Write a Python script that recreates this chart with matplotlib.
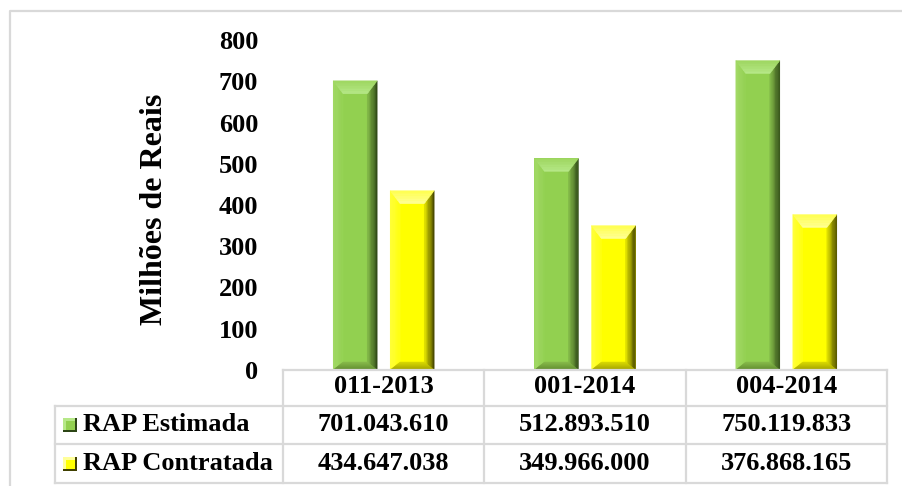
import matplotlib
matplotlib.use('Agg')
import matplotlib.pyplot as plt
from matplotlib.patches import Polygon, Rectangle
from matplotlib.lines import Line2D
from matplotlib.colors import to_rgb
import numpy as np

plt.rcParams['font.family'] = ['Liberation Serif', 'DejaVu Serif']
plt.rcParams['font.weight'] = 'bold'

leiloes = ['011-2013', '001-2014', '004-2014']
series = ['RAP Estimada', 'RAP Contratada']
rap_estimada = [701043610, 512893510, 750119833]
rap_contratada = [434647038, 349966000, 376868165]
y_ticks = [0, 100, 200, 300, 400, 500, 600, 700, 800]

# face, then (outer, inner) colours of each bevel side: top, left, right, bottom
GREEN = dict(face='#92D050', top=('#9ED760', '#B6E888'), left=('#A4DA68', '#94D253'),
             right=('#2C4515', '#86BC4A'), bottom=('#5F8A2E', '#86BA4A'))
YELLOW = dict(face='#FFFF00', top=('#FFFF50', '#FFFF9A'), left=('#FFFF40', '#FFFF10'),
              right=('#404000', '#E6E600'), bottom=('#A0A000', '#DADA00'))
GRID = '#D9D9D9'
FS = 19

W, H = 902, 486
fig = plt.figure(figsize=(W / 100, H / 100), dpi=100)

ax = fig.add_axes([283 / W, 116 / H, 604 / W, 330 / H])
ax.set_xlim(-0.5, 2.5)
ax.set_ylim(0, 800)
for s in ax.spines.values():
    s.set_visible(False)
ax.set_xticks([])
ax.set_yticks(y_ticks)
ax.set_yticklabels([str(t) for t in y_ticks], fontsize=FS, fontweight='bold')
ax.tick_params(axis='y', length=0, pad=18)

# data units per pixel, used for the bevel size
px_x = 3.0 / 604
px_y = 800.0 / 330


def shade(ax, p0, p1, q0, q1, c_out, c_in, n=8):
    # fill the band between outer edge p0-p1 and inner edge q0-q1 with a gradient
    p0, p1, q0, q1 = map(np.array, (p0, p1, q0, q1))
    a, b = np.array(to_rgb(c_out)), np.array(to_rgb(c_in))
    for i in range(n):
        t0, t1 = i / n, (i + 1) / n
        pts = [p0 + (q0 - p0) * t0, p1 + (q1 - p1) * t0,
               p1 + (q1 - p1) * t1, p0 + (q0 - p0) * t1]
        c = a + (b - a) * (i + 0.5) / n
        ax.add_patch(Polygon(pts, closed=True, facecolor=c, edgecolor=c, lw=0.3, zorder=3))


def bevel_bar(ax, xc, h, w, cols):
    x0, x1 = xc - w / 2, xc + w / 2
    bx = 10 * px_x
    by = 13 * px_y
    bb = 8 * px_y
    ax.bar(xc, h, w, color=cols['face'], edgecolor='none', zorder=2)
    shade(ax, (x0, 0), (x0, h), (x0 + bx, bb), (x0 + bx, h - by), *cols['left'])
    shade(ax, (x1, 0), (x1, h), (x1 - bx, bb), (x1 - bx, h - by), *cols['right'])
    shade(ax, (x0, 0), (x1, 0), (x0 + bx, bb), (x1 - bx, bb), *cols['bottom'])
    shade(ax, (x0, h), (x1, h), (x0 + bx, h - by), (x1 - bx, h - by), *cols['top'])


x = np.arange(len(leiloes))
bw = 44 / 201.33
off = 28.5 / 201.33
for i in range(len(leiloes)):
    bevel_bar(ax, x[i] - off, rap_estimada[i] / 1e6, bw, GREEN)
    bevel_bar(ax, x[i] + off, rap_contratada[i] / 1e6, bw, YELLOW)

fig.text(155 / W, 1 - 209 / H, 'Milhões de Reais', rotation=90, ha='center', va='center',
         fontsize=23, fontweight='bold')

# data table under the plot
tax = fig.add_axes([55 / W, 3 / H, 832 / W, 113 / H])
xmin = -0.5 - 228 / 201.33
tax.set_xlim(xmin, 2.5)
tax.set_ylim(113, 0)
tax.axis('off')
rows = [0, 36, 74, 113]
edges = [-0.5, 0.5, 1.5, 2.5]
lk = dict(color=GRID, lw=1.6, solid_capstyle='projecting')
tax.plot([-0.5, 2.5], [rows[0], rows[0]], clip_on=False, **lk)
for r in rows[1:]:
    tax.plot([xmin, 2.5], [r, r], clip_on=False, **lk)
tax.plot([xmin, xmin], [rows[1], rows[3]], clip_on=False, **lk)
for e in edges:
    tax.plot([e, e], [rows[0], rows[3]], clip_on=False, **lk)

for i, lab in enumerate(leiloes):
    tax.text(x[i], 16, lab, ha='center', va='center', fontsize=FS, fontweight='bold')
    tax.text(x[i], 54, f'{rap_estimada[i]:,}'.replace(',', '.'), ha='center', va='center',
             fontsize=FS, fontweight='bold')
    tax.text(x[i], 93, f'{rap_contratada[i]:,}'.replace(',', '.'), ha='center', va='center',
             fontsize=FS, fontweight='bold')

# legend keys inside the row headers
tpx = (2.5 - xmin) / 832
for name, yc, cols in [(series[0], 55, GREEN), (series[1], 94, YELLOW)]:
    mx = xmin + 8 * tpx
    s = 14 * tpx
    tax.add_patch(Rectangle((mx, yc - 7), s, 14, facecolor=cols['right'][0], edgecolor='none',
                            clip_on=False))
    tax.add_patch(Rectangle((mx, yc - 7), s - 2 * tpx, 12, facecolor=cols['top'][1],
                            edgecolor='none', clip_on=False))
    tax.add_patch(Rectangle((mx + 2.5 * tpx, yc - 4.5), s - 5 * tpx, 9, facecolor=cols['face'],
                            edgecolor='none', clip_on=False))
    tax.text(xmin + 28 * tpx, yc - 1, name, ha='left', va='center', fontsize=FS, fontweight='bold')

# outer frame
fig.add_artist(Line2D([10 / W, 10 / W, 1.0], [0, 1 - 11 / H, 1 - 11 / H],
                      transform=fig.transFigure, color=GRID, lw=1.6))

fig.savefig('out.png', dpi=100)
